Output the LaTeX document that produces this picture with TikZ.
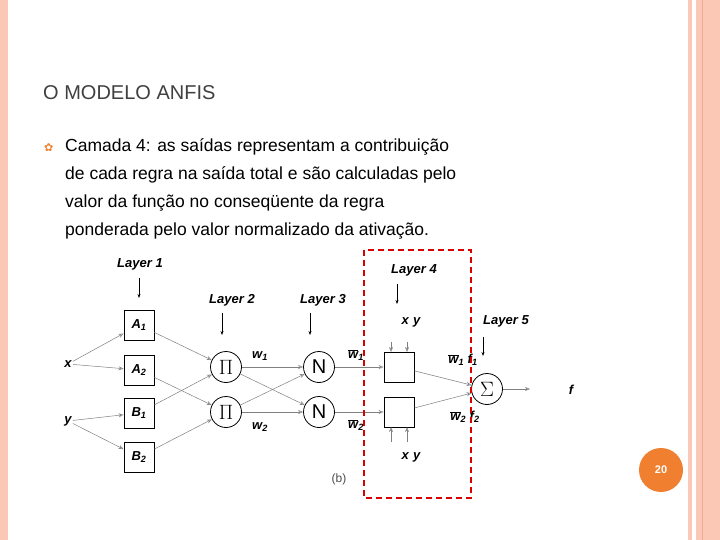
\documentclass[tikz,border=0pt]{standalone}
\usepackage{fontspec}
\setmainfont{Liberation Sans}
\newfontfamily\djvfont{DejaVu Sans}
\usetikzlibrary{arrows.meta}
\definecolor{pk}{RGB}{250,200,180}
\definecolor{pkd}{RGB}{240,170,150}
\definecolor{org}{RGB}{240,128,48}
\newcommand{\wb}{$\overline{\mbox{\textit{w}}}$}
\begin{document}
\begin{tikzpicture}[x=1pt,y=-1pt,
 box/.style={draw,line width=0.8pt,minimum size=30pt,inner sep=0pt,font=\bfseries\itshape\fontsize{13}{13}\selectfont},
 circ/.style={draw,circle,line width=0.8pt,minimum size=31pt,inner sep=0pt,font=\fontsize{20}{20}\selectfont},
 lab/.style={font=\bfseries\itshape\fontsize{13}{13}\selectfont,inner sep=1pt},
 ln/.style={gray,line width=0.5pt,-{Stealth[length=5pt,width=4pt,open]}},
 ar/.style={line width=0.6pt,-{Stealth[length=4pt]}}]
\useasboundingbox (0,0) rectangle (720,540);
\fill[white] (0,0) rectangle (720,540);
\fill[pk] (0,0) rectangle (8,540);
\fill[pk] (688,0) rectangle (692,540);
\fill[pk] (696,0) rectangle (720,540);
\draw[pkd,line width=0.8pt] (702,0) -- (702,540);
\node[anchor=base west,font=\fontsize{20}{20}\selectfont,text=black!75,inner sep=0pt] (title) at (43,100) {O MODELO ANFIS};
\node[anchor=base west,text=org,font=\djvfont\fontsize{11}{11}\selectfont,inner sep=0pt] (bul) at (44,152) {✿};
\node[anchor=north west,align=left,font=\fontsize{17.5}{28.3}\selectfont,inner sep=0pt] (txt) at (65,138)
 {Camada 4: as saídas representam a contribuição\\de cada regra na saída total e são calculadas pelo\\valor da função no conseqüente da regra\\ponderada pelo valor normalizado da ativação.};
% nodes
\node[box] (A1) at (139,325) {A\textsubscript{1}};
\node[box] (A2) at (139,370) {A\textsubscript{2}};
\node[box] (B1) at (139,413) {B\textsubscript{1}};
\node[box] (B2) at (139,457) {B\textsubscript{2}};
\node[lab] (x) at (68,364) {x};
\node[lab] (y) at (68,421) {y};
\node[circ] (P1) at (226,367) {$\Pi$};
\node[circ] (P2) at (226,412) {$\Pi$};
\node[circ] (N1) at (319,367) {N};
\node[circ] (N2) at (319,412) {N};
\node[box] (C1) at (399,367) {};
\node[box] (C2) at (399,412) {};
\node[circ] (S) at (487,389) {$\Sigma$};
\coordinate (fo) at (530,389);
\node[lab] (f) at (571,390) {f};
\foreach \a/\b in {x/A1,x/A2,y/B1,y/B2,A1/P1,B1/P1,A2/P2,B2/P2,P1/N1,P1/N2,P2/N1,P2/N2,N1/C1,N2/C2,C1/S,C2/S}
 \draw[ln] (\a) -- (\b);
\draw[ln] (S) -- (fo);
% labels
\node[lab] (L1) at (140,264) {Layer 1};
\node[lab] (L2) at (232,300) {Layer 2};
\node[lab] (L3) at (323,300) {Layer 3};
\node[lab] (L4) at (414,270) {Layer 4};
\node[lab] (L5) at (506,321) {Layer 5};
\draw[ar] (139,278) -- (139,298);
\draw[ar] (222,313) -- (222,335);
\draw[ar] (310,313) -- (310,335);
\draw[ar] (397,284) -- (397,304);
\draw[ar] (483,337) -- (483,356);
\node[lab] (xy1) at (411,322) {x\,\,y};
\node[lab] (xy2) at (411,457) {x\,\,y};
\draw[ln] (391,342) -- (391,352);
\draw[ln] (407,342) -- (407,352);
\draw[ln] (391,442) -- (391,427);
\draw[ln] (407,442) -- (407,427);
\node[lab] (w1) at (260,356) {w\textsubscript{1}};
\node[lab] (w2) at (260,427) {w\textsubscript{2}};
\node[lab] (wb1) at (356,355) {\wb\textsubscript{1}};
\node[lab] (wb2) at (356,425) {\wb\textsubscript{2}};
\node[lab] (wf1) at (463,360) {\wb\textsubscript{1} f\textsubscript{1}};
\node[lab] (wf2) at (465,417) {\wb\textsubscript{2} f\textsubscript{2}};
\node[font=\fontsize{12}{12}\selectfont,text=black!70] (b) at (339,479) {(b)};
\draw[red!85!black,line width=2.2pt,dash pattern=on 6pt off 4pt] (364,250) rectangle (471,498);
\node[circle,fill=org,minimum size=44pt,text=white,font=\bfseries\fontsize{11}{11}\selectfont] (pg) at (661,470) {20};
\end{tikzpicture}
\end{document}
